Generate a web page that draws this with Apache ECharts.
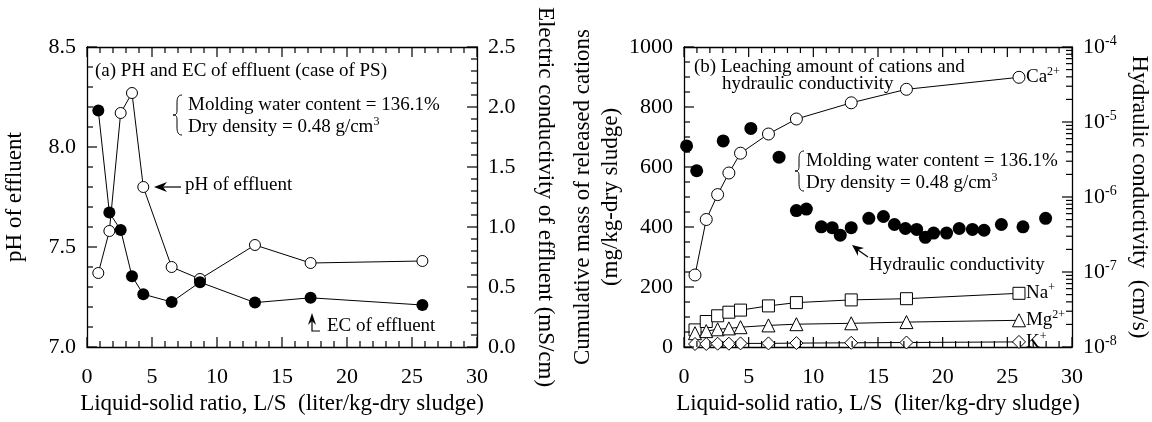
<!DOCTYPE html>
<html><head><meta charset="utf-8">
<script src="https://cdn.jsdelivr.net/npm/echarts@6/dist/echarts.min.js"></script>
<style>html,body{margin:0;padding:0;background:#fff}#c{width:1152px;height:422px}</style>
</head><body><div id="c"></div>
<script>
// ---- Data: panel (a) pH and EC of effluent ----
const lsA = [0.87, 1.72, 2.59, 3.46, 4.33, 6.51, 8.69, 12.92, 17.2, 25.8];
const phEffluent = [7.37, 7.58, 8.17, 8.27, 7.80, 7.40, 7.34, 7.51, 7.42, 7.43];
const ecEffluent = [1.97, 1.12, 0.975, 0.59, 0.44, 0.375, 0.54, 0.37, 0.41, 0.35];

// ---- Data: panel (b) cumulative released cations (mg/kg-dry sludge) ----
const lsB = [0.85, 1.72, 2.6, 3.47, 4.37, 6.53, 8.69, 12.93, 17.2, 25.9];
const caMass = [240, 425, 508, 580, 646, 710, 760, 814, 859, 899];
const naMass = [57, 85, 104, 116, 123, 137, 148, 157, 161, 179];
const mgMass = [46, 53, 59, 62, 66, 72, 76, 79, 83, 89];
const kMass = [10, 10, 11, 11, 12, 12, 13, 14, 15, 17];

// ---- Data: panel (b) hydraulic conductivity (cm/s) ----
const lsH = [0.2, 0.98, 3.03, 5.17, 7.35, 8.69, 9.46, 10.62, 11.46, 12.08, 12.93, 14.29, 15.42, 16.27, 17.12, 17.99, 18.66, 19.3, 20.3, 21.28, 22.3, 23.2, 24.54, 26.21, 27.96];
const kHyd = [4.8e-6, 2.24e-6, 5.6e-6, 8.2e-6, 3.4e-6, 6.6e-7, 6.9e-7, 4.0e-7, 3.9e-7, 3.1e-7, 3.9e-7, 5.2e-7, 5.5e-7, 4.3e-7, 3.8e-7, 3.7e-7, 2.9e-7, 3.3e-7, 3.3e-7, 3.8e-7, 3.7e-7, 3.6e-7, 4.3e-7, 4.0e-7, 5.2e-7];

// ---- Axis names ----
const xName = 'Liquid-solid ratio, L/S  (liter/kg-dry sludge)';
const phName = 'pH of effluent';
const ecName = 'Electric conductivity of effluent (mS/cm)';
const massName = 'Cumulative mass of released cations\n(mg/kg-dry sludge)';
const hydName = 'Hydraulic conductivity  (cm/s)';

// ---- Tick positions: [value, isMajor] ----
const lsTicks = [];   for (let i = 0; i <= 30; i++) lsTicks.push([i, i % 5 === 0]);
const phTicks = [];   for (let i = 0; i <= 15; i++) phTicks.push([7 + i / 10, i % 5 === 0]);
const ecTicks = [];   for (let i = 0; i <= 25; i++) ecTicks.push([i / 10, i % 5 === 0]);
const massTicks = []; for (let i = 0; i <= 20; i++) massTicks.push([i * 50, i % 4 === 0]);
const logTicks = [];
for (let e = -8; e <= -4; e++) for (let k = 1; k <= 9; k++) { if (e === -4 && k > 1) break; logTicks.push([+(k * Math.pow(10, e)).toPrecision(3), k === 1]); }

const FONT = "'Liberation Serif','Times New Roman',serif";
const BLACK = '#000';
const MAJ = 10, MIN = 6;

const zip = (xs, ys) => xs.map((x, i) => [x, ys[i]]);

function xAxes(gridIndex) {
  const common = () => ({
    type: 'value', gridIndex, min: 0, max: 30, interval: 5,
    axisLine: { show: true, onZero: false, lineStyle: { color: BLACK, width: 1.3 } },
    axisTick: { show: false }, minorTick: { show: false },
    splitLine: { show: false }, minorSplitLine: { show: false }
  });
  return [
    Object.assign(common(), {
      position: 'bottom',
      axisLabel: { color: BLACK, fontSize: 22, fontFamily: FONT, margin: 19 },
      name: xName, nameLocation: 'middle', nameGap: 42,
      nameTextStyle: { color: BLACK, fontSize: 23, fontFamily: FONT }
    }),
    Object.assign(common(), { position: 'top', axisLabel: { show: false } })
  ];
}

function valAxis(gridIndex, position, min, max, interval, fmt, name, rotate, gap) {
  return {
    type: 'value', gridIndex, position, min, max, interval,
    axisLine: { show: true, onZero: false, lineStyle: { color: BLACK, width: 1.3 } },
    axisTick: { show: false }, minorTick: { show: false },
    splitLine: { show: false }, minorSplitLine: { show: false },
    axisLabel: { color: BLACK, fontSize: 22, fontFamily: FONT, margin: 11, formatter: fmt },
    name, nameLocation: 'middle', nameRotate: rotate, nameGap: gap,
    nameTextStyle: { color: BLACK, fontSize: 23, fontFamily: FONT, align: 'center', lineHeight: 28 }
  };
}

const openSym = { color: '#fff', borderColor: BLACK, borderWidth: 1, opacity: 1 };
const lineSt = { color: BLACK, width: 1 };
const supRich = {
  n: { fontSize: 19, fontFamily: FONT, color: BLACK, lineHeight: 22 },
  s: { fontSize: 12, fontFamily: FONT, color: BLACK, verticalAlign: 'top', lineHeight: 12 }
};

function lineSeries(xi, yi, xs, ys, symbol, size, item, label) {
  const s = {
    type: 'line', xAxisIndex: xi, yAxisIndex: yi, data: zip(xs, ys),
    symbol, symbolSize: size, showSymbol: true, clip: false, z: 3,
    itemStyle: item, lineStyle: lineSt, emphasis: { disabled: true }, animation: false
  };
  if (label) s.endLabel = { show: true, formatter: label, distance: 7, rich: supRich, color: BLACK };
  return s;
}

function brace(x, top, bottom) {
  const mid = (top + bottom) / 2, bx = x - 5, tip = x - 9;
  const st = { stroke: BLACK, lineWidth: 1, fill: null };
  return [
    { type: 'bezierCurve', shape: { x1: x, y1: top, cpx1: bx + 1, cpy1: top, cpx2: bx, cpy2: top + 3, x2: bx, y2: top + 8 }, style: st },
    { type: 'line', shape: { x1: bx, y1: top + 8, x2: bx, y2: mid - 5 }, style: st },
    { type: 'bezierCurve', shape: { x1: bx, y1: mid - 5, cpx1: bx, cpy1: mid - 1, cpx2: bx - 1, cpy2: mid, x2: tip, y2: mid }, style: st },
    { type: 'bezierCurve', shape: { x1: tip, y1: mid, cpx1: bx - 1, cpy1: mid, cpx2: bx, cpy2: mid + 1, x2: bx, y2: mid + 5 }, style: st },
    { type: 'line', shape: { x1: bx, y1: mid + 5, x2: bx, y2: bottom - 8 }, style: st },
    { type: 'bezierCurve', shape: { x1: bx, y1: bottom - 8, cpx1: bx, cpy1: bottom - 3, cpx2: bx + 1, cpy2: bottom, x2: x, y2: bottom }, style: st }
  ];
}

const txt = (x, y, text) => ({ type: 'text', x, y, style: { text, font: '19px ' + FONT, fill: BLACK, verticalAlign: 'middle' } });
const rtxt = (x, y, text) => ({ type: 'text', x, y, style: { text, rich: supRich, verticalAlign: 'middle' } });

const annotations = [
  // Panel (a)
  txt(95, 71, '(a) PH and EC of effluent (case of PS)'),
  ...brace(182, 95, 135),
  txt(188, 105, 'Molding water content = 136.1%'),
  rtxt(188, 127, '{n|Dry density = 0.48 g/cm}{s|3}'),
  txt(185, 185, 'pH of effluent'),
  { type: 'line', shape: { x1: 162, y1: 187, x2: 181, y2: 187 }, style: { stroke: BLACK, lineWidth: 1.2 } },
  { type: 'polygon', shape: { points: [[154, 187], [167, 182], [163, 187], [167, 192]] }, style: { fill: BLACK } },
  txt(327, 326, 'EC of effluent'),
  { type: 'polyline', shape: { points: [[312, 321], [312, 331], [320, 331]] }, style: { stroke: BLACK, lineWidth: 1.2, fill: null } },
  { type: 'polygon', shape: { points: [[312, 313], [316, 325], [312, 321], [308, 325]] }, style: { fill: BLACK } },
  // Panel (b)
  txt(694, 67, '(b) Leaching amount of cations and'),
  txt(722, 84, 'hydraulic conductivity'),
  ...brace(804, 151, 191),
  txt(806, 161, 'Molding water content = 136.1%'),
  rtxt(806, 183, '{n|Dry density = 0.48 g/cm}{s|3}'),
  txt(869, 265, 'Hydraulic conductivity'),
  { type: 'line', shape: { x1: 858, y1: 250, x2: 868, y2: 257 }, style: { stroke: BLACK, lineWidth: 1.2 } },
  { type: 'polygon', shape: { points: [[852, 245], [864, 248], [858, 250], [858, 256]] }, style: { fill: BLACK } }
];

const option = {
  animation: false,
  backgroundColor: '#fff',
  grid: [
    { left: 87, top: 47, width: 390, height: 300 },
    { left: 684, top: 47, width: 389, height: 300 }
  ],
  xAxis: [...xAxes(0), ...xAxes(1)],
  yAxis: [
    valAxis(0, 'left', 7, 8.5, 0.5, v => v.toFixed(1), phName, 90, 58),
    valAxis(0, 'right', 0, 2.5, 0.5, v => v.toFixed(1), ecName, -90, 54),
    valAxis(1, 'left', 0, 1000, 200, v => String(v), massName, 90, 58),
    {
      type: 'log', gridIndex: 1, position: 'right', logBase: 10, min: 1e-8, max: 1e-4, interval: 1,
      axisLine: { show: true, onZero: false, lineStyle: { color: BLACK, width: 1.3 } },
      axisTick: { show: false }, minorTick: { show: false }, splitLine: { show: false },
      axisLabel: {
        margin: 11, color: BLACK,
        formatter: v => '{b|10}{s|' + Math.round(Math.log10(v)) + '}',
        rich: {
          b: { fontSize: 22, fontFamily: FONT, color: BLACK, lineHeight: 26 },
          s: { fontSize: 14, fontFamily: FONT, color: BLACK, verticalAlign: 'top', lineHeight: 14 }
        }
      },
      name: hydName, nameLocation: 'middle', nameRotate: -90, nameGap: 56,
      nameTextStyle: { color: BLACK, fontSize: 23, fontFamily: FONT }
    }
  ],
  series: [
    lineSeries(0, 0, lsA, phEffluent, 'circle', 11, openSym),
    lineSeries(0, 1, lsA, ecEffluent, 'circle', 12, { color: BLACK, opacity: 1 }),
    lineSeries(2, 2, lsB, caMass, 'circle', 12, openSym, '{n|Ca}{s|2+}'),
    lineSeries(2, 2, lsB, naMass, 'rect', 12, openSym, '{n|Na}{s|+}'),
    lineSeries(2, 2, lsB, mgMass, 'triangle', 13, openSym, '{n|Mg}{s|2+}'),
    lineSeries(2, 2, lsB, kMass, 'diamond', 13, openSym, '{n|K}{s|+}'),
    {
      type: 'scatter', xAxisIndex: 2, yAxisIndex: 3, data: zip(lsH, kHyd), z: 3,
      symbol: 'circle', symbolSize: 13, itemStyle: { color: BLACK, opacity: 1 }, clip: false,
      emphasis: { disabled: true }, animation: false
    }
  ]
};

const chart = echarts.init(document.getElementById('c'), null, { renderer: 'canvas' });
chart.setOption(option);

// Inside tick marks, positioned through the axes' own scales
const tickEls = [];
const tst = { stroke: BLACK, lineWidth: 1.2 };
function xTicks(xi, yi, yMin, yMax) {
  lsTicks.forEach(([v, maj]) => {
    const len = maj ? MAJ : MIN;
    const b = chart.convertToPixel({ xAxisIndex: xi, yAxisIndex: yi }, [v, yMin]);
    const t = chart.convertToPixel({ xAxisIndex: xi, yAxisIndex: yi }, [v, yMax]);
    if (!b || !t) return;
    tickEls.push({ type: 'line', z: 10, silent: true, shape: { x1: b[0], y1: b[1], x2: b[0], y2: b[1] - len }, style: tst });
    tickEls.push({ type: 'line', z: 10, silent: true, shape: { x1: t[0], y1: t[1], x2: t[0], y2: t[1] + len }, style: tst });
  });
}
function yTicks(xi, yi, ticks, xRef, dir) {
  ticks.forEach(([v, maj]) => {
    const len = maj ? MAJ : MIN;
    const p = chart.convertToPixel({ xAxisIndex: xi, yAxisIndex: yi }, [xRef, v]);
    if (!p) return;
    tickEls.push({ type: 'line', z: 10, silent: true, shape: { x1: p[0], y1: p[1], x2: p[0] + dir * len, y2: p[1] }, style: tst });
  });
}
try {
  xTicks(0, 0, 7, 8.5);
  yTicks(0, 0, phTicks, 0, 1);
  yTicks(0, 1, ecTicks, 30, -1);
  xTicks(2, 2, 0, 1000);
  yTicks(2, 2, massTicks, 0, 1);
  yTicks(2, 3, logTicks, 30, -1);
} catch (err) { /* keep chart without ticks if conversion fails */ }

chart.setOption({ graphic: annotations.concat(tickEls) });
</script>
</body></html>
